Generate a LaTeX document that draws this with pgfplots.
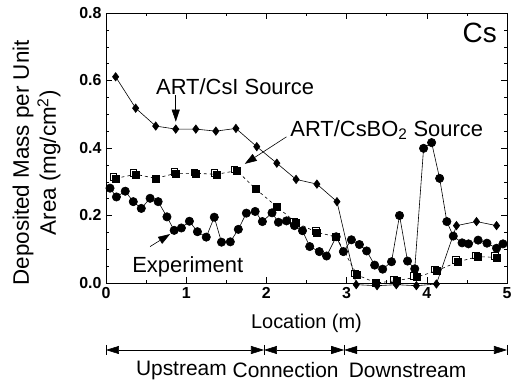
\documentclass[border=0pt]{standalone}
\usepackage{pgfplots}
\pgfplotsset{compat=1.18}
\usepackage{fontspec}
\setmainfont{Liberation Sans}
\usetikzlibrary{arrows.meta}

\pgfplotstableread{
x y
0.12 0.611
0.37 0.518
0.62 0.465
0.87 0.456
1.12 0.456
1.37 0.450
1.62 0.458
1.88 0.404
2.13 0.355
2.37 0.307
2.63 0.293
2.88 0.241
3.12 -0.005
3.38 -0.008
3.62 -0.005
3.87 -0.008
4.12 -0.003
4.37 0.170
4.62 0.182
4.87 0.170
}\csi

\pgfplotstableread{
x y
0.12 0.310
0.37 0.322
0.62 0.310
0.87 0.325
1.12 0.325
1.38 0.322
1.63 0.333
1.87 0.278
2.13 0.226
2.37 0.179
2.63 0.150
2.87 0.137
3.13 0.024
3.37 0.000
3.62 0.007
3.87 0.017
4.12 0.036
4.39 0.063
4.64 0.078
4.87 0.076
}\csbo

\pgfplotstableread{
x y
0.09 0.314
0.34 0.326
0.85 0.329
1.10 0.328
1.35 0.326
1.60 0.337
2.34 0.183
2.62 0.155
3.10 0.028
3.59 0.011
3.84 0.021
4.10 0.040
4.36 0.068
4.61 0.082
4.85 0.080
}\csboopen

\pgfplotstableread{
x y
0.05 0.281
0.13 0.255
0.24 0.272
0.34 0.241
0.44 0.221
0.55 0.251
0.65 0.241
0.76 0.196
0.85 0.156
0.94 0.163
1.04 0.183
1.14 0.152
1.25 0.136
1.35 0.195
1.44 0.121
1.55 0.122
1.65 0.159
1.75 0.207
1.86 0.212
1.95 0.182
2.07 0.208
2.15 0.180
2.25 0.184
2.35 0.170
2.45 0.155
2.54 0.108
2.66 0.093
2.75 0.080
2.87 0.137
2.96 0.093
3.06 0.128
3.16 0.114
3.25 0.095
3.35 0.053
3.45 0.041
3.56 0.063
3.66 0.200
3.76 0.065
3.85 0.042
3.96 0.399
4.06 0.416
4.16 0.310
4.25 0.182
4.33 0.139
4.44 0.119
4.52 0.116
4.64 0.127
4.75 0.118
4.87 0.103
4.95 0.116
}\expt

\begin{document}
\begin{tikzpicture}
\useasboundingbox (-106bp,-98bp) rectangle (411bp,283bp);
\begin{axis}[
  at={(0,0)}, anchor=south west,
  scale only axis, width=401bp, height=270bp,
  xmin=0, xmax=5, ymin=0, ymax=0.8,
  xtick={0,1,2,3,4,5},
  ytick={0,0.2,0.4,0.6,0.8},
  minor x tick num=1, minor y tick num=3,
  tick align=inside,
  major tick length=6bp, minor tick length=3bp,
  clip=false,
  axis line style={line width=0.6pt},
  tick style={line width=0.5pt, black},
  /pgf/number format/assume math mode=true,
  yticklabel style={/pgf/number format/fixed, /pgf/number format/precision=1, /pgf/number format/fixed zerofill, xshift=-1bp},
  xticklabel style={yshift=-1bp},
  tick label style={font=\fontsize{16}{18}\selectfont\bfseries},
  xlabel={Location (m)},
  xlabel style={font=\fontsize{20}{22}\selectfont, at={(axis description cs:0.5,-0.148)}, anchor=center},
  ylabel={Deposited Mass per Unit\\Area (mg/cm\textsuperscript{2})},
  ylabel style={font=\fontsize{22.5}{27}\selectfont, align=center, at={(axis description cs:-0.173,0.445)}, anchor=center},
]
\addplot[black, line width=0.6pt, mark=diamond*, mark size=4.2pt, mark options={solid}] table {\csi};
\addplot[black, line width=0.6pt, dashed, mark=square*, mark size=3.5pt, mark options={solid}] table {\csbo};
\addplot[black, only marks, mark=square, mark size=3.3pt, mark options={solid, fill=white, line width=0.7pt}] table {\csboopen};
\addplot[black, line width=0.6pt, mark=*, mark size=4.2pt] table {\expt};

% annotations
\node[font=\fontsize{22}{24}\selectfont] at (axis cs:1.61,0.581) {ART/CsI Source};
\draw[line width=0.6pt, -{Triangle[length=12bp,width=8bp]}] (axis cs:0.87,0.557) -- (axis cs:0.87,0.478);
\node[font=\fontsize{22}{24}\selectfont] at (axis cs:3.50,0.453) {ART/CsBO\textsubscript{2} Source};
\draw[line width=0.6pt, -{Triangle[length=12bp,width=8bp]}] (axis cs:2.25,0.433) -- (axis cs:1.73,0.353);
\node[font=\fontsize{22}{24}\selectfont] at (axis cs:1.02,0.047) {Experiment};
\draw[line width=0.6pt, -{Triangle[length=12bp,width=8bp]}] (axis cs:0.55,0.108) -- (axis cs:0.80,0.145);
\node[font=\fontsize{28}{30}\selectfont] at (axis cs:4.66,0.741) {Cs};

% region arrows
\draw[line width=0.6pt, {Triangle[length=13bp,width=8bp]}-{Triangle[length=13bp,width=8bp]}] (axis cs:0,-0.1985) -- (axis cs:1.97,-0.1985);
\draw[line width=0.6pt, {Triangle[length=13bp,width=8bp]}-{Triangle[length=13bp,width=8bp]}] (axis cs:1.97,-0.1985) -- (axis cs:2.97,-0.1985);
\draw[line width=0.6pt, {Triangle[length=13bp,width=8bp]}-{Triangle[length=13bp,width=8bp]}] (axis cs:2.97,-0.1985) -- (axis cs:5,-0.1985);
\draw[line width=0.6pt] (axis cs:0,-0.183) -- (axis cs:0,-0.214);
\draw[line width=0.6pt] (axis cs:1.97,-0.183) -- (axis cs:1.97,-0.214);
\draw[line width=0.6pt] (axis cs:2.97,-0.183) -- (axis cs:2.97,-0.214);
\draw[line width=0.6pt] (axis cs:5,-0.183) -- (axis cs:5,-0.214);
\node[font=\fontsize{21}{23}\selectfont] at (axis cs:0.94,-0.258) {Upstream};
\node[font=\fontsize{21}{23}\selectfont] at (axis cs:2.24,-0.258) {Connection};
\node[font=\fontsize{21}{23}\selectfont] at (axis cs:3.76,-0.258) {Downstream};
\end{axis}
\end{tikzpicture}
\end{document}
